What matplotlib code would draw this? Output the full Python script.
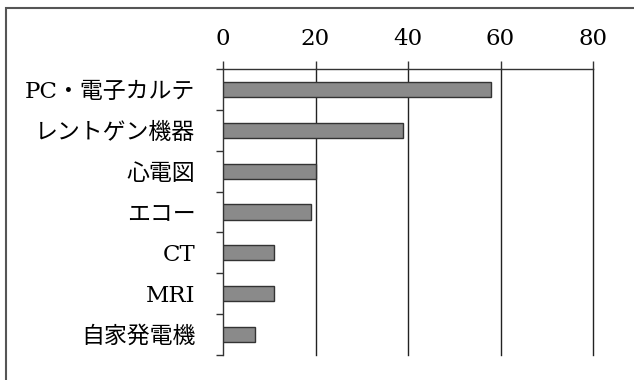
import matplotlib
matplotlib.use("Agg")
import matplotlib.pyplot as plt
from matplotlib.patches import Rectangle
import numpy as np

categories = ["PC・電子カルテ", "レントゲン機器", "心電図", "エコー", "CT", "MRI", "自家発電機"]
values = [58, 39, 20, 19, 11, 11, 7]
xticks = [0, 20, 40, 60, 80]

plt.rcParams['font.family'] = ['DejaVu Serif', 'Noto Sans CJK JP', 'DejaVu Sans']

W, H = 634, 380
fig = plt.figure(figsize=(W/100, H/100), dpi=100)
fig.patch.set_facecolor('white')

# outer frame (cropped at right and bottom)
fig.patches.append(Rectangle((6/W, -0.1), 1.2, 1 - 8/H + 0.1, transform=fig.transFigure,
                             fill=False, edgecolor='#555555', linewidth=1.5))

ax = fig.add_axes([223/W, 1 - 355/H, (593 - 223)/W, (355 - 69)/H])
y = np.arange(len(categories))
ax.barh(y, values, height=0.37, color='#8a8a8a', edgecolor='#333333', linewidth=1.0, zorder=3)
ax.set_ylim(len(categories) - 0.5, -0.5)
ax.set_xlim(0, 80)
ax.set_xticks(xticks)
ax.set_xticklabels([str(t) for t in xticks])
ax.xaxis.tick_top()
ax.tick_params(axis='x', which='major', direction='out', length=6, width=1.0,
               color='#333333', pad=8, labelsize=16.5)
ax.set_yticks(y)
ax.set_yticklabels(categories)
ax.tick_params(axis='y', which='major', length=0, pad=20, labelsize=16.5)
ax.set_yticks(np.arange(-0.5, len(categories) + 0.5, 1), minor=True)
ax.tick_params(axis='y', which='minor', direction='out', length=5, width=1.0, color='#333333')

for t in xticks[1:]:
    ax.axvline(t, color='#222222', linewidth=1.0, zorder=1, clip_on=False)

for s in ['right', 'bottom']:
    ax.spines[s].set_visible(False)
for s in ['top', 'left']:
    ax.spines[s].set_color('#333333')
    ax.spines[s].set_linewidth(1.0)

fig.savefig('out.png', dpi=100)
